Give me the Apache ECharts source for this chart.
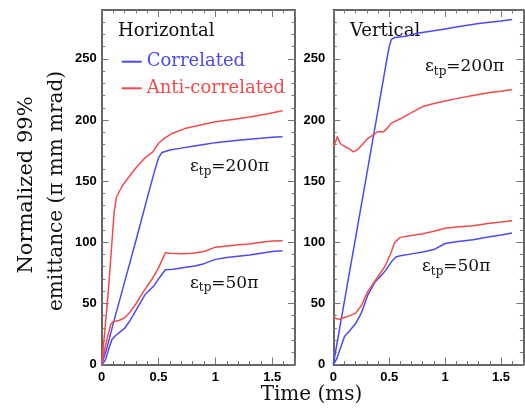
<!DOCTYPE html>
<html>
<head>
<meta charset="utf-8">
<script src="https://cdn.jsdelivr.net/npm/echarts@6/dist/echarts.min.js"></script>
<style>html,body{margin:0;padding:0;background:#fff}#c{width:525px;height:409px}</style>
</head>
<body>
<div id="c"></div>
<script>
// ---- data (time in ms, normalized emittance) ----
const xTicks = [0, 0.5, 1, 1.5];
const yTicks = [0, 50, 100, 150, 200, 250];
const seriesNames = ['Correlated', 'Anti-correlated'];
const panelTitles = ['Horizontal', 'Vertical'];

const hCorr200 = [[0,0],[0.05,15],[0.1,33],[0.2,67],[0.3,101],[0.4,136],[0.47,160],[0.5,169],[0.53,173.5],[0.6,175.5],[0.7,177],[0.8,178.5],[0.9,180],[1.0,181.5],[1.1,182.5],[1.2,183.5],[1.3,184.3],[1.4,185],[1.5,186],[1.59,186.3]];
const hAnti200 = [[0,0],[0.03,30],[0.06,62],[0.09,100],[0.11,125],[0.13,137],[0.18,146],[0.26,156],[0.32,163],[0.38,169],[0.45,174],[0.5,181],[0.55,185],[0.62,189],[0.73,193],[0.85,195.5],[1.0,198.5],[1.15,200.5],[1.3,202.5],[1.45,205],[1.59,207.5]];
const hCorr50 = [[0,0],[0.03,3],[0.06,12],[0.09,20.5],[0.12,23.5],[0.2,29.5],[0.25,36],[0.3,44],[0.38,57],[0.46,64.5],[0.5,70],[0.56,77.5],[0.63,78],[0.74,79.5],[0.82,80.5],[0.9,82.5],[1.0,86],[1.1,87.5],[1.2,88.5],[1.3,89.5],[1.4,91],[1.5,92.5],[1.59,93]];
const hAnti50 = [[0,0],[0.02,10],[0.05,22],[0.08,33],[0.1,35],[0.15,36],[0.2,38],[0.25,43],[0.3,49.5],[0.37,60],[0.44,69.5],[0.5,79],[0.56,91.5],[0.6,91],[0.7,90.5],[0.8,91],[0.9,92.5],[1.0,96],[1.1,97],[1.2,98],[1.3,98.5],[1.4,100],[1.5,101],[1.59,101.3]];

const vCorr200 = [[0,0],[0.1,52],[0.2,104],[0.3,156],[0.4,208],[0.47,245],[0.5,260],[0.52,266],[0.55,267.5],[0.65,268.5],[0.75,271],[0.9,273],[1.0,274.5],[1.1,276],[1.2,277.5],[1.3,279],[1.4,280],[1.5,281],[1.6,282.3]];
const vAnti200 = [[0,178],[0.02,182],[0.036,186.5],[0.06,181],[0.09,179],[0.12,177.5],[0.15,176],[0.18,174],[0.22,176],[0.27,181],[0.31,185],[0.36,188],[0.4,190.5],[0.45,190.5],[0.48,193],[0.52,197.5],[0.6,201],[0.7,206],[0.8,211],[0.9,213.5],[1.0,215.5],[1.1,217.5],[1.25,220],[1.4,222.5],[1.5,223.5],[1.6,225]];
const vCorr50 = [[0,0],[0.03,4.5],[0.07,15],[0.1,23],[0.15,28],[0.2,33.5],[0.25,42],[0.31,57],[0.37,67],[0.42,72],[0.46,76],[0.52,84],[0.56,88],[0.6,89],[0.7,90.5],[0.8,92],[0.9,94],[1.0,99],[1.1,100.5],[1.25,102],[1.4,104.5],[1.5,106],[1.6,107.6]];
const vAnti50 = [[0,39],[0.03,37.5],[0.06,37],[0.1,38.5],[0.15,40],[0.2,42],[0.25,48],[0.31,60],[0.4,72],[0.46,80],[0.51,90],[0.55,100],[0.6,104],[0.7,105.5],[0.8,107],[0.9,109],[1.0,111.5],[1.1,112.5],[1.25,113.5],[1.4,115.5],[1.5,116.5],[1.6,117.6]];

// ---- styling ----
const BLUE = '#4b4bf3', RED = '#f34b4b';
const FRAME = '#333';
const TICKC = '#777';
const SERIF = 'DejaVu Serif';
const X_MAX = 1.7, Y_MAX = 290;

const grids = [
  {left: 101.7, top: 10, width: 193.3, height: 354.5},
  {left: 333.3, top: 10, width: 190, height: 354.5}
];

const labelStyle = {color: '#000', fontFamily: 'Liberation Sans', fontWeight: 'bold', fontSize: 13};

const xAxes = [], yAxes = [];
grids.forEach((g, gi) => {
  ['bottom', 'top'].forEach(pos => {
    xAxes.push({type: 'value', gridIndex: gi, position: pos, min: 0, max: X_MAX, interval: 0.5,
      axisLine: {show: true, onZero: false, lineStyle: {color: FRAME, width: 1.5}},
      axisTick: {show: true, inside: true, length: 7, lineStyle: {color: TICKC}},
      axisLabel: {show: pos === 'bottom', margin: 6, showMaxLabel: false, ...labelStyle,
        formatter: v => (xTicks.indexOf(v) >= 0 ? String(v) : '')},
      splitLine: {show: false}});
    xAxes.push({type: 'value', gridIndex: gi, position: pos, min: 0, max: X_MAX, interval: 0.1,
      axisLine: {show: false, onZero: false},
      axisTick: {show: true, inside: true, length: 3.5, lineStyle: {color: TICKC}},
      axisLabel: {show: false}, splitLine: {show: false}});
  });
  ['left', 'right'].forEach(pos => {
    yAxes.push({type: 'value', gridIndex: gi, position: pos, min: 0, max: Y_MAX, interval: 50,
      axisLine: {show: true, onZero: false, lineStyle: {color: FRAME, width: 1.5}},
      axisTick: {show: true, inside: true, length: 7, lineStyle: {color: TICKC}},
      axisLabel: {show: pos === 'left', margin: gi === 0 ? 5 : 8, showMaxLabel: false, ...labelStyle,
        formatter: v => (yTicks.indexOf(v) >= 0 ? String(v) : '')},
      splitLine: {show: false}});
    yAxes.push({type: 'value', gridIndex: gi, position: pos, min: 0, max: Y_MAX, interval: 10,
      axisLine: {show: false, onZero: false},
      axisTick: {show: true, inside: true, length: 3.5, lineStyle: {color: TICKC}},
      axisLabel: {show: false}, splitLine: {show: false}});
  });
});

function line(name, data, color, gi) {
  return {type: 'line', name: name, data: data, xAxisIndex: gi * 4, yAxisIndex: gi * 4,
    showSymbol: false, symbol: 'none', smooth: false, silent: true, animation: false,
    lineStyle: {color: color, width: 1.5}, itemStyle: {color: color}};
}

const series = [
  line(seriesNames[0], hCorr200, BLUE, 0),
  line(seriesNames[1], hAnti200, RED, 0),
  line(seriesNames[0], hCorr50, BLUE, 0),
  line(seriesNames[1], hAnti50, RED, 0),
  line(seriesNames[0], vCorr200, BLUE, 1),
  line(seriesNames[1], vAnti200, RED, 1),
  line(seriesNames[0], vCorr50, BLUE, 1),
  line(seriesNames[1], vAnti50, RED, 1)
];

function epsText(x, y, val) {
  return {type: 'text', x: x, y: y, silent: true,
    style: {text: '{a|ε}{b|tp}{a|=' + val + 'π}', textVerticalAlign: 'middle', textAlign: 'left',
      rich: {
        a: {fontFamily: SERIF, fontSize: 17, lineHeight: 22, fill: '#111', verticalAlign: 'middle'},
        b: {fontFamily: SERIF, fontSize: 12, lineHeight: 12, fill: '#111', verticalAlign: 'bottom'}
      }}};
}

const graphic = [
  {type: 'text', x: 118, y: 31.7, silent: true,
    style: {text: panelTitles[0], font: '18px "' + SERIF + '"', fill: '#111', textVerticalAlign: 'middle'}},
  {type: 'text', x: 350, y: 31.7, silent: true,
    style: {text: panelTitles[1], font: '18px "' + SERIF + '"', fill: '#111', textVerticalAlign: 'middle'}},
  epsText(190, 166.7, 200),
  epsText(190, 283.3, 50),
  epsText(425, 66.7, 200),
  epsText(422, 266.7, 50),
  {type: 'text', x: 27, y: 185, rotation: Math.PI / 2, silent: true,
    style: {text: 'Normalized 99%', font: '21px "' + SERIF + '"', fill: '#111', textAlign: 'center', textVerticalAlign: 'middle'}},
  {type: 'text', x: 57, y: 191, rotation: Math.PI / 2, silent: true,
    style: {text: 'emittance (π mm mrad)', font: '20px "' + SERIF + '"', fill: '#111', textAlign: 'center', textVerticalAlign: 'middle'}},
  {type: 'text', x: 311.5, y: 395, silent: true,
    style: {text: 'Time (ms)', font: '20px "' + SERIF + '"', fill: '#111', textAlign: 'center', textVerticalAlign: 'middle'}}
];

const chart = echarts.init(document.getElementById('c'), null, {renderer: 'canvas'});
chart.setOption({
  animation: false,
  backgroundColor: '#fff',
  grid: grids.map(g => ({...g, containLabel: false})),
  xAxis: xAxes,
  yAxis: yAxes,
  legend: {
    orient: 'vertical', left: 121.7, top: 51.7, itemGap: 6.6, padding: 0,
    icon: 'rect', itemWidth: 20, itemHeight: 2, selectedMode: false,
    data: [
      {name: seriesNames[0], textStyle: {color: BLUE}},
      {name: seriesNames[1], textStyle: {color: RED}}
    ],
    textStyle: {fontFamily: SERIF, fontSize: 18, lineHeight: 20}
  },
  series: series,
  graphic: graphic
});
</script>
</body>
</html>
